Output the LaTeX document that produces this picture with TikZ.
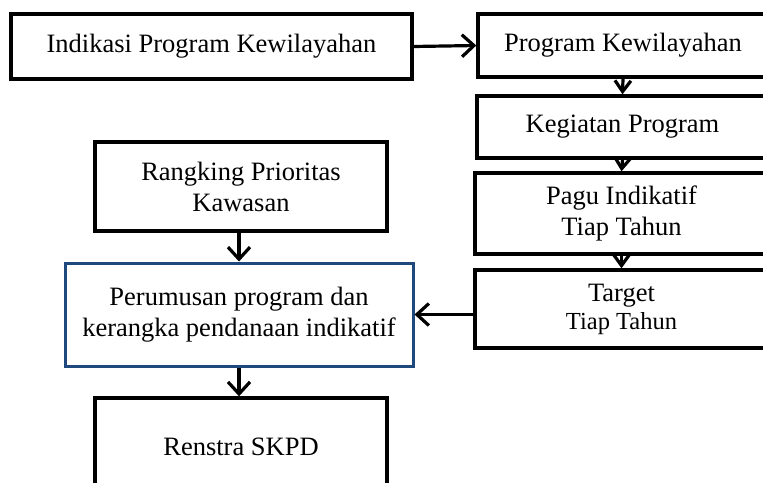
\documentclass[tikz,border=0pt]{standalone}
\usepackage{fontspec}
\setmainfont{Liberation Serif}
\usetikzlibrary{arrows.meta}
\definecolor{boxblue}{RGB}{31,73,125}
\tikzset{
  box/.style={draw=black, line width=3.4pt, rectangle, align=center, inner sep=0pt,
    font=\fontsize{26.5}{31}\selectfont},
  bluebox/.style={box, draw=boxblue, line width=3pt},
  arr/.style={draw=black, line width=3.2pt,
    -{Straight Barb[length=12pt, width=22pt, line width=3.2pt]}},
  shortarr/.style={draw=black, line width=3.2pt,
    -{Straight Barb[length=11pt, width=16pt, line width=3.2pt]}},
}
\begin{document}
\begin{tikzpicture}[x=1pt, y=-1pt]
  \useasboundingbox (0,0) rectangle (763,482);
  % top row
  \node[box, minimum width=401pt, minimum height=65pt] (ind) at (211.5,46.5) {Indikasi Program Kewilayahan};
  \node[box, minimum width=290pt, minimum height=63pt] (prog) at (623,45.5) {Program Kewilayahan};
  % right column
  \node[box, minimum width=291pt, minimum height=62pt] (keg) at (622.5,127) {Kegiatan Program};
  \node[box, minimum width=293pt, minimum height=81pt] (pagu) at (621.5,213.5) {Pagu Indikatif\\Tiap Tahun};
  \node[box, minimum width=293pt, minimum height=78pt] (target) at (621.5,309)
    {Target\\[-3pt]{\fontsize{24.5}{28}\selectfont Tiap Tahun}};
  % left column
  \node[box, minimum width=292pt, minimum height=89pt] (rank) at (241,186.5) {Rangking Prioritas\\Kawasan};
  \node[bluebox, minimum width=348pt, minimum height=103pt] (perum) at (239,314.5)
    {Perumusan program dan\\kerangka pendanaan indikatif};
  \node[box, minimum width=292pt, minimum height=98pt] (renstra) at (241,447) {Renstra SKPD};
  % connectors
  \draw[arr] (ind.east) -- (prog.west);
  \draw[shortarr] (prog.south) -- (keg.north);
  \draw[shortarr] (keg.south) -- (pagu.north);
  \draw[shortarr] (pagu.south) -- (target.north);
  \draw[arr] (target.west |- perum.east) -- (perum.east);
  \draw[arr] (perum.north |- rank.south) -- (perum.north);
  \draw[arr] (perum.south) -- (perum.south |- renstra.north);
\end{tikzpicture}
\end{document}
